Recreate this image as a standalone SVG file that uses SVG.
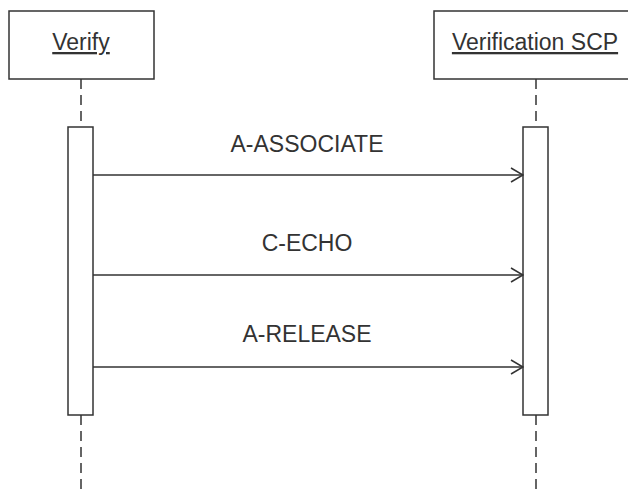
<svg xmlns="http://www.w3.org/2000/svg" width="628" height="491" viewBox="0 0 628 491">
<style>
.box{fill:#fff;stroke:#333;stroke-width:1.5}
.life{stroke:#333;stroke-width:1.5;stroke-dasharray:10 6;fill:none}
.msg{stroke:#333;stroke-width:1.5;fill:none}
.t{font-family:"Liberation Sans",Arial,sans-serif;font-size:23px;fill:#333;text-anchor:middle}
</style>
<defs>
<marker id="open" viewBox="0 0 14 16" refX="13" refY="8" markerWidth="14" markerHeight="16" markerUnits="userSpaceOnUse" orient="auto">
<path d="M1,1 L13,8 L1,15" fill="none" stroke="#333" stroke-width="1.5"/>
</marker>
</defs>
<rect width="628" height="491" fill="#fff"/>
<g id="verify">
<line class="life" x1="81" y1="79" x2="81" y2="491"/>
<rect class="box" x="9" y="11" width="145" height="68"/>
<text class="t" x="81" y="50" text-decoration="underline">Verify</text>
<rect class="box" x="68" y="127" width="25" height="288"/>
</g>
<g id="scp">
<line class="life" x1="536" y1="79" x2="536" y2="491"/>
<rect class="box" x="434" y="11" width="204" height="68"/>
<text class="t" x="535" y="50" text-decoration="underline">Verification SCP</text>
<rect class="box" x="523" y="127" width="25" height="288"/>
</g>
<g id="connectors">
<line class="msg" x1="93" y1="175" x2="523" y2="175" marker-end="url(#open)"/>
<text class="t" x="307" y="152">A-ASSOCIATE</text>
<line class="msg" x1="93" y1="275" x2="523" y2="275" marker-end="url(#open)"/>
<text class="t" x="307" y="251">C-ECHO</text>
<line class="msg" x1="93" y1="367" x2="523" y2="367" marker-end="url(#open)"/>
<text class="t" x="307" y="342">A-RELEASE</text>
</g>
</svg>
